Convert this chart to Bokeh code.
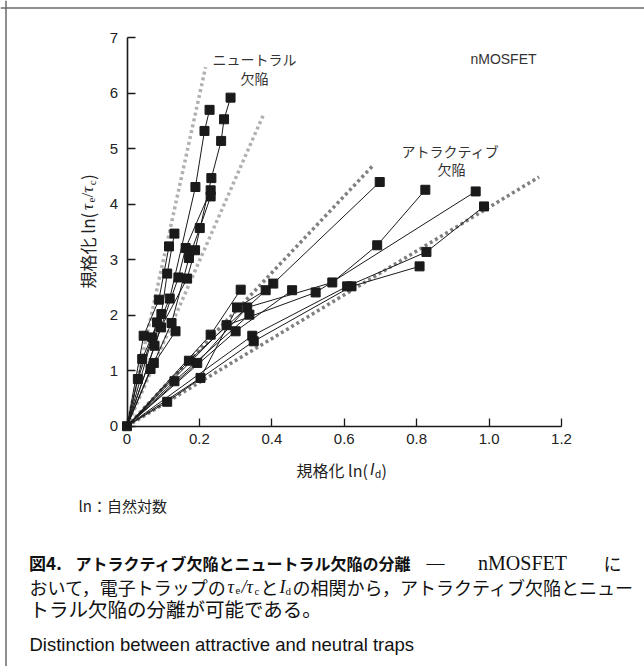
import math
from bokeh.plotting import figure
from bokeh.models import Label, FixedTicker, Range1d, LinearAxis, Span
from bokeh.embed import file_html
from bokeh.resources import INLINE

# ---------------- data ----------------
x_ticks = [0, 0.2, 0.4, 0.6, 0.8, 1.0, 1.2]
x_tick_labels = ["0", "0.2", "0.4", "0.6", "0.8", "1.0", "1.2"]
y_ticks = [0, 1, 2, 3, 4, 5, 6, 7]
y_tick_labels = ["0", "1", "2", "3", "4", "5", "6", "7"]

# neutral traps (steep group)
n1_x = [0, 0.046, 0.088, 0.116]
n1_y = [0, 1.63, 2.28, 3.24]
n2_x = [0, 0.042, 0.095, 0.111, 0.131]
n2_y = [0, 1.21, 2.02, 2.75, 3.47]
n3_x = [0, 0.070, 0.118, 0.189, 0.214, 0.228]
n3_y = [0, 1.60, 2.30, 4.31, 5.32, 5.70]
n4_x = [0, 0.076, 0.142, 0.162, 0.231]
n4_y = [0, 1.45, 2.68, 3.21, 4.25]
n5_x = [0, 0.074, 0.123, 0.171, 0.201, 0.231]
n5_y = [0, 1.14, 1.86, 3.03, 3.57, 4.14]
n6_x = [0, 0.065, 0.134]
n6_y = [0, 1.03, 1.71]
n7_x = [0, 0.094, 0.166, 0.188, 0.233, 0.260, 0.268, 0.286]
n7_y = [0, 1.78, 2.66, 3.17, 4.47, 5.14, 5.53, 5.92]
n8_x = [0, 0.030, 0.083]
n8_y = [0, 0.85, 1.87]

# attractive traps (shallow group)
a1_x = [0, 0.231, 0.314]
a1_y = [0, 1.65, 2.46]
a2_x = [0, 0.171, 0.404, 0.698]
a2_y = [0, 1.18, 2.57, 4.40]
a3_x = [0, 0.194, 0.332, 0.567, 0.691, 0.824]
a3_y = [0, 1.14, 2.14, 2.59, 3.26, 4.26]
a4_x = [0, 0.203, 0.304, 0.383]
a4_y = [0, 0.87, 2.14, 2.45]
a5_x = [0, 0.275, 0.521, 0.963]
a5_y = [0, 1.82, 2.41, 4.23]
a6_x = [0, 0.300, 0.456]
a6_y = [0, 1.71, 2.45]
a7_x = [0, 0.346, 0.608, 0.827, 0.986]
a7_y = [0, 1.63, 2.52, 3.14, 3.96]
a8_x = [0, 0.111, 0.350, 0.620, 0.808]
a8_y = [0, 0.44, 1.53, 2.52, 2.88]
a9_x = [0, 0.131, 0.338]
a9_y = [0, 0.81, 2.01]

# dotted guide lines (from origin)
neutral_upper_x = [0, 0.217]
neutral_upper_y = [0, 6.47]
neutral_lower_x = [0, 0.378]
neutral_lower_y = [0, 5.63]
attractive_upper_x = [0, 0.677]
attractive_upper_y = [0, 4.68]
attractive_lower_x = [0, 1.138]
attractive_lower_y = [0, 4.49]

series = [
    (n1_x, n1_y), (n2_x, n2_y), (n3_x, n3_y), (n4_x, n4_y),
    (n5_x, n5_y), (n6_x, n6_y), (n7_x, n7_y), (n8_x, n8_y),
    (a1_x, a1_y), (a2_x, a2_y), (a3_x, a3_y), (a4_x, a4_y),
    (a5_x, a5_y), (a6_x, a6_y), (a7_x, a7_y), (a8_x, a8_y), (a9_x, a9_y),
]

# ---------------- layout (pixel geometry) ----------------
W, H = 644, 666
X0_PX, X12_PX = 126.5, 561.0     # pixel of x=0 and x=1.2
Y0_PX, Y7_PX = 425.7, 37.2       # pixel of y=0 and y=7
SX = (X12_PX - X0_PX) / 1.2
SY = (Y0_PX - Y7_PX) / 7.0


def X(px):
    return (px - X0_PX) / SX


def Y(py):
    return (Y0_PX - py) / SY


p = figure(width=W, height=H,
           x_range=Range1d(X(0), X(W)), y_range=Range1d(Y(H), Y(0)),
           output_backend="svg", toolbar_location=None,
           x_axis_location=None, y_axis_location=None,
           min_border=0, min_border_left=0, min_border_right=0,
           min_border_top=0, min_border_bottom=0)
p.outline_line_color = None
p.grid.visible = False
p.background_fill_color = "white"
p.border_fill_color = "white"

xaxis = LinearAxis(fixed_location=0, bounds=(0, 1.2), ticker=FixedTicker(ticks=x_ticks))
yaxis = LinearAxis(fixed_location=0, bounds=(0, 7), ticker=FixedTicker(ticks=y_ticks))
xaxis.major_label_overrides = {t: s for t, s in zip(x_ticks, x_tick_labels)}
yaxis.major_label_overrides = {t: s for t, s in zip(y_ticks, y_tick_labels)}
for ax in (xaxis, yaxis):
    ax.axis_line_color = "#1a1a1a"
    ax.axis_line_width = 1.6
    ax.major_tick_line_color = "#1a1a1a"
    ax.major_tick_line_width = 1.3
    ax.major_tick_in = 8
    ax.major_tick_out = 0
    ax.minor_tick_line_color = None
    ax.major_label_text_font = "Liberation Sans"
    ax.major_label_text_font_size = "15px"
    ax.major_label_text_color = "#222222"
xaxis.major_label_standoff = 8
yaxis.major_label_standoff = 9
p.add_layout(xaxis, "below")
p.add_layout(yaxis, "left")

# figure frame border (top and left only)
p.add_layout(Span(location=X(5.5), dimension="height", line_color="#6a6a6a", line_width=1.5))
p.add_layout(Span(location=Y(7.5), dimension="width", line_color="#6a6a6a", line_width=1.5))

# dotted guides
p.line(neutral_upper_x, neutral_upper_y, line_color="#b0b0b0", line_width=3.5, line_dash="3 3")
p.line(neutral_lower_x, neutral_lower_y, line_color="#b0b0b0", line_width=3.5, line_dash="3 3")
p.line(attractive_upper_x, attractive_upper_y, line_color="#808080", line_width=3.5, line_dash="3 3")
p.line(attractive_lower_x, attractive_lower_y, line_color="#808080", line_width=3.5, line_dash="3 3")

for sx, sy in series:
    p.line(sx, sy, line_color="#1a1a1a", line_width=1.0)
for sx, sy in series:
    p.scatter(sx[1:], sy[1:], marker="square", size=9, fill_color="#1a1a1a", line_color="#1a1a1a")
p.scatter([0], [0], marker="square", size=9, fill_color="#1a1a1a", line_color="#1a1a1a")

# ---------------- text ----------------
JP = "Noto Sans CJK JP"
SANS = "Liberation Sans"
SERIF = "Liberation Serif"


def lab(txt, px, py, size=14, font=JP, align="left", baseline="middle", color="#222222",
        style="normal", angle=0.0):
    p.add_layout(Label(x=X(px), y=Y(py), text=txt, text_font=font, text_font_size=f"{size}px",
                       text_align=align, text_baseline=baseline, text_color=color,
                       text_font_style=style, angle=angle))


# annotations in plot
lab("ニュートラル", 254, 58, 14, align="center", color="#333333")
lab("欠陥", 254, 77, 14, align="center", color="#333333")
lab("アトラクティブ", 450, 150, 14, align="center", color="#333333")
lab("欠陥", 451, 168, 14, align="center", color="#333333")
lab("nMOSFET", 503, 58, 14, font=SANS, align="center", color="#333333")

# x axis label: 規格化 ln(Id)
lab("規格化 ln(", 296, 469, 16)
lab("I", 369.5, 469, 16, font=SANS, style="italic")
lab("d", 374.5, 473.5, 11, font=SANS)
lab(")", 381, 469, 16)

# y axis label (rotated): 規格化 ln(τe/τc)
A = math.pi / 2
lab("規格化 ln(", 87, 288, 17, angle=A)
lab("τ", 87, 209.5, 17, font=SERIF, style="italic", angle=A)
lab("e", 91, 202, 11, font=SERIF, angle=A)
lab("/", 87, 197, 17, font=SERIF, angle=A)
lab("τ", 87, 192.3, 17, font=SERIF, style="italic", angle=A)
lab("c", 91, 184.8, 11, font=SERIF, angle=A)
lab(")", 87, 179.5, 17, angle=A)

# footnote
lab("ln：自然対数", 78, 505, 15)

# caption
lab("図4.", 28.6, 562, 17, style="bold", color="#111111")
lab("アトラクティブ欠陥とニュートラル欠陥の分離", 75, 562, 16, style="bold", color="#111111")
lab("—", 426, 562, 18, font=SERIF, color="#111111")
lab("nMOSFET", 522, 562, 20, font=SERIF, align="center", color="#111111")
lab("に", 603, 562, 18, color="#111111")
lab("おいて，電子トラップの", 29, 586, 18, color="#111111")
lab("τ", 227, 586, 18, font=SERIF, style="italic", color="#111111")
lab("e", 235, 590, 11, font=SERIF, color="#111111")
lab("/τ", 241, 586, 18, font=SERIF, style="italic", color="#111111")
lab("c", 254, 590, 11, font=SERIF, color="#111111")
lab("と", 260, 586, 18, color="#111111")
lab("I", 279, 586, 18, font=SERIF, style="italic", color="#111111")
lab("d", 285, 590, 11, font=SERIF, color="#111111")
lab("の相関から，アトラクティブ欠陥とニュー", 292, 586, 18, color="#111111")
lab("トラル欠陥の分離が可能である。", 29, 608, 19.5, color="#111111")
lab("Distinction between attractive and neutral traps", 29, 644, 18.5, font=SANS, color="#111111")

open("out.html", "w").write(file_html(p, INLINE))
